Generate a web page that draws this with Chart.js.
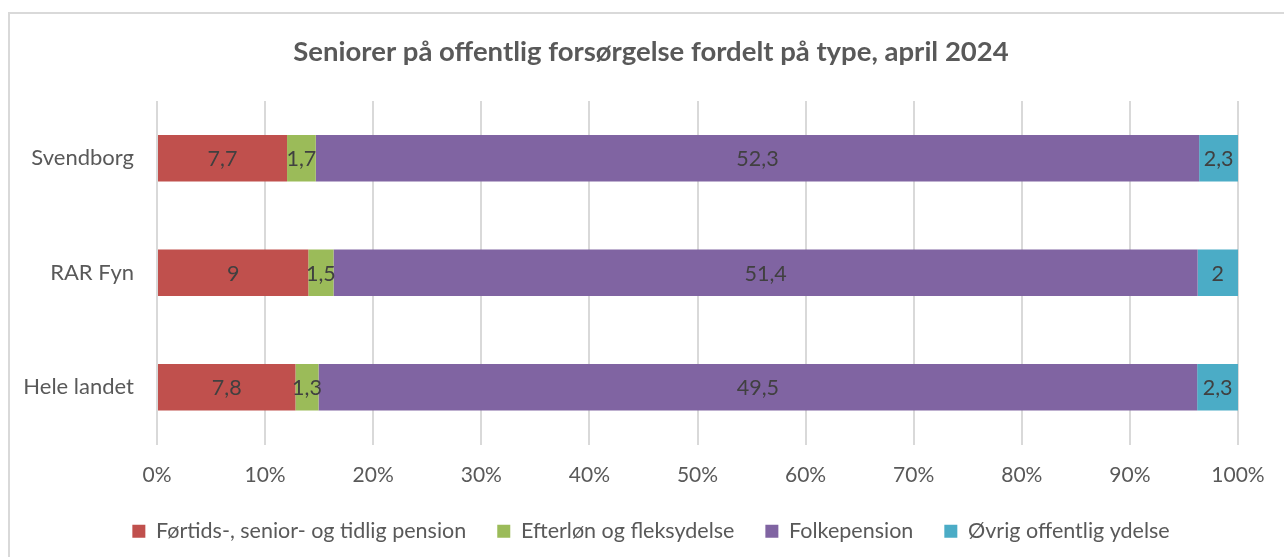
<!DOCTYPE html>
<html>
<head>
<meta charset="utf-8">
<script src="https://cdn.jsdelivr.net/npm/chart.js@4.4.1/dist/chart.umd.min.js"></script>
<style>
  html, body { margin: 0; padding: 0; background: #ffffff; overflow: hidden; }
  #wrap { position: relative; width: 1284px; height: 557px; }
  #frame { position: absolute; left: 8px; top: 12px; width: 1400px; height: 700px;
           border-left: 2px solid #d9d9d9; border-top: 2px solid #d9d9d9; box-sizing: border-box; }
  canvas { position: absolute; left: 0; top: 0; }
</style>
</head>
<body>
<div id="wrap">
  <div id="frame"></div>
  <canvas id="c" width="1284" height="557"></canvas>
</div>
<script>
const chartTitle = 'Seniorer på offentlig forsørgelse fordelt på type, april 2024';
const categories = ['Svendborg', 'RAR Fyn', 'Hele landet'];
const seriesNames = ['Førtids-, senior- og tidlig pension', 'Efterløn og fleksydelse', 'Folkepension', 'Øvrig offentlig ydelse'];
// bar values (segment lengths)
const fortidsPension = [7.7, 9, 7.8];
const efterlonFleks = [1.7, 1.5, 1.3];
const folkepension = [52.3, 51.4, 49.5];
const ovrigYdelse = [2.3, 2.4, 2.3];
// data labels as printed on the bars
const fortidsLabels = ['7,7', '9', '7,8'];
const efterlonLabels = ['1,7', '1,5', '1,3'];
const folkeLabels = ['52,3', '51,4', '49,5'];
const ovrigLabels = ['2,3', '2', '2,3'];
const xTickValues = [0, 10, 20, 30, 40, 50, 60, 70, 80, 90, 100];
const seriesColors = ['#C0504D', '#9BBB59', '#8064A2', '#4BACC6'];

const rawSeries = [fortidsPension, efterlonFleks, folkepension, ovrigYdelse];
const labelSeries = [fortidsLabels, efterlonLabels, folkeLabels, ovrigLabels];
const totals = categories.map((_, i) => rawSeries.reduce((s, arr) => s + arr[i], 0));

const FONT = 'Lato';
const TXT = '#595959';

const datasets = rawSeries.map((arr, k) => ({
  label: seriesNames[k],
  data: arr.map((v, i) => v / totals[i] * 100),
  labelText: labelSeries[k],
  backgroundColor: seriesColors[k],
  borderWidth: 0,
  xAxisID: 'x',
  yAxisID: 'y',
  barPercentage: 0.404,
  categoryPercentage: 1.0
}));

const valueLabels = {
  id: 'valueLabels',
  afterDatasetsDraw(chart) {
    const ctx = chart.ctx;
    ctx.save();
    ctx.font = '21.5px ' + FONT;
    ctx.fillStyle = '#404040';
    ctx.textAlign = 'center';
    ctx.textBaseline = 'middle';
    chart.data.datasets.forEach((ds, di) => {
      const meta = chart.getDatasetMeta(di);
      meta.data.forEach((el, i) => {
        const p = el.getProps(['x', 'y', 'base'], true);
        const cx = (p.x + p.base) / 2;
        ctx.fillText(ds.labelText[i], cx, p.y + 1);
      });
    });
    ctx.restore();
  }
};

new Chart(document.getElementById('c'), {
  type: 'bar',
  data: { labels: categories, datasets },
  plugins: [valueLabels],
  options: {
    indexAxis: 'y',
    responsive: false,
    animation: false,
    devicePixelRatio: 1,
    layout: { padding: { left: 18, right: 0, top: 0, bottom: 5 } },
    plugins: {
      title: {
        display: true,
        text: chartTitle,
        color: TXT,
        font: { family: FONT, size: 27.5, weight: 'bold' },
        padding: { top: 36, bottom: 32 }
      },
      legend: {
        position: 'bottom',
        labels: {
          color: TXT,
          font: { family: FONT, size: 21.5 },
          boxWidth: 13,
          boxHeight: 13,
          padding: 31
        }
      },
      tooltip: { enabled: false }
    },
    scales: {
      x: {
        stacked: true,
        min: 0,
        max: 100,
        afterBuildTicks(s) { s.ticks = xTickValues.map(v => ({ value: v })); },
        afterFit(s) { s.height = 45; },
        grid: { color: '#d9d9d9', lineWidth: 2, drawTicks: false },
        border: { display: false },
        ticks: {
          color: TXT,
          font: { family: FONT, size: 21 },
          padding: 18,
          callback: v => v + '%'
        }
      },
      y: {
        stacked: true,
        afterFit(s) { s.width = 139; },
        grid: { display: false, drawTicks: false },
        border: { display: false },
        ticks: {
          color: TXT,
          font: { family: FONT, size: 22 },
          padding: 23
        }
      },
      yRight: {
        type: 'linear',
        axis: 'y',
        position: 'right',
        display: true,
        afterFit(s) { s.width = 46; },
        grid: { display: false, drawTicks: false },
        border: { display: false },
        ticks: { display: false }
      }
    }
  }
});
</script>
</body>
</html>
